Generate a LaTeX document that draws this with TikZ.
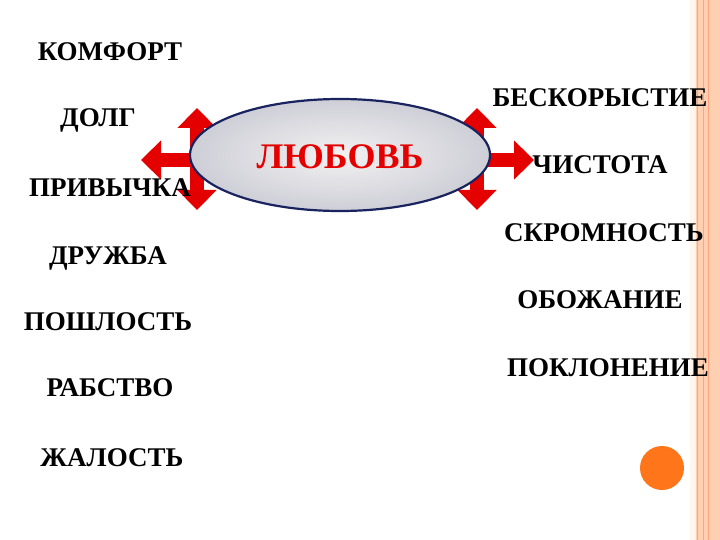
\documentclass[tikz,border=0pt]{standalone}
\usepackage{fontspec}
\setmainfont{Liberation Serif}
\usetikzlibrary{arrows.meta,shapes.geometric}
\begin{document}
\begin{tikzpicture}[x=1pt,y=-1pt,
 lbl/.style={font=\bfseries\fontsize{27}{29}\selectfont, text=black, inner sep=0pt},
 arr/.style={line width=14pt, draw=red!90!black, {Triangle[width=38pt,length=20pt]}-{Triangle[width=38pt,length=20pt]}},
 arr1/.style={line width=14pt, draw=red!90!black, -{Triangle[width=38pt,length=20pt]}}]
\useasboundingbox (0,0) rectangle (720,540);
\fill[white] (0,0) rectangle (720,540);
% right border
\fill[red!25!orange!30] (690,0) rectangle (720,540);
\fill[white!60!orange!20] (690,0) rectangle (696,540);
\draw[orange!60!red!50, line width=1pt] (697.5,0) -- (697.5,540);
\draw[orange!60!red!50, line width=0.8pt] (703,0) -- (703,540);
\draw[orange!60!red!50, line width=0.8pt] (708,0) -- (708,540);
% arrows
\coordinate (lt) at (197,108); \coordinate (lb) at (197,210);
\coordinate (lm) at (215,160); \coordinate (lx) at (141,160);
\coordinate (rt) at (477,108); \coordinate (rb) at (477,210);
\coordinate (rm) at (460,160); \coordinate (rx) at (534,160);
\draw[arr] (lt) -- (lb);
\draw[arr1] (lm) -- (lx);
\draw[arr] (rt) -- (rb);
\draw[arr1] (rm) -- (rx);
% ellipse
\node[draw={rgb,255:red,25;green,35;blue,95}, line width=2.2pt, ellipse, minimum width=300pt, minimum height=112pt,
 inner color=gray!10, outer color=blue!10!gray!35] (love) at (340,155) {};
\node[font=\bfseries\fontsize{36}{38}\selectfont, text=red!90!black] at (340,157) {ЛЮБОВЬ};
% left words
\node[lbl] (a1) at (110,52) {КОМФОРТ};
\node[lbl] (a2) at (98,120) {ДОЛГ};
\node[lbl] (a3) at (110,188) {ПРИВЫЧКА};
\node[lbl] (a4) at (108,258) {ДРУЖБА};
\node[lbl] (a5) at (108,322) {ПОШЛОСТЬ};
\node[lbl] (a6) at (110,388) {РАБСТВО};
\node[lbl] (a7) at (112,458) {ЖАЛОСТЬ};
% right words
\node[lbl] (b1) at (600,98) {БЕСКОРЫСТИЕ};
\node[lbl] (b2) at (600,165) {ЧИСТОТА};
\node[lbl] (b3) at (604,233) {СКРОМНОСТЬ};
\node[lbl] (b4) at (600,300) {ОБОЖАНИЕ};
\node[lbl] (b5) at (608,368) {ПОКЛОНЕНИЕ};
\fill[orange!80!red!90] (662,468) circle (22);
\end{tikzpicture}
\end{document}
